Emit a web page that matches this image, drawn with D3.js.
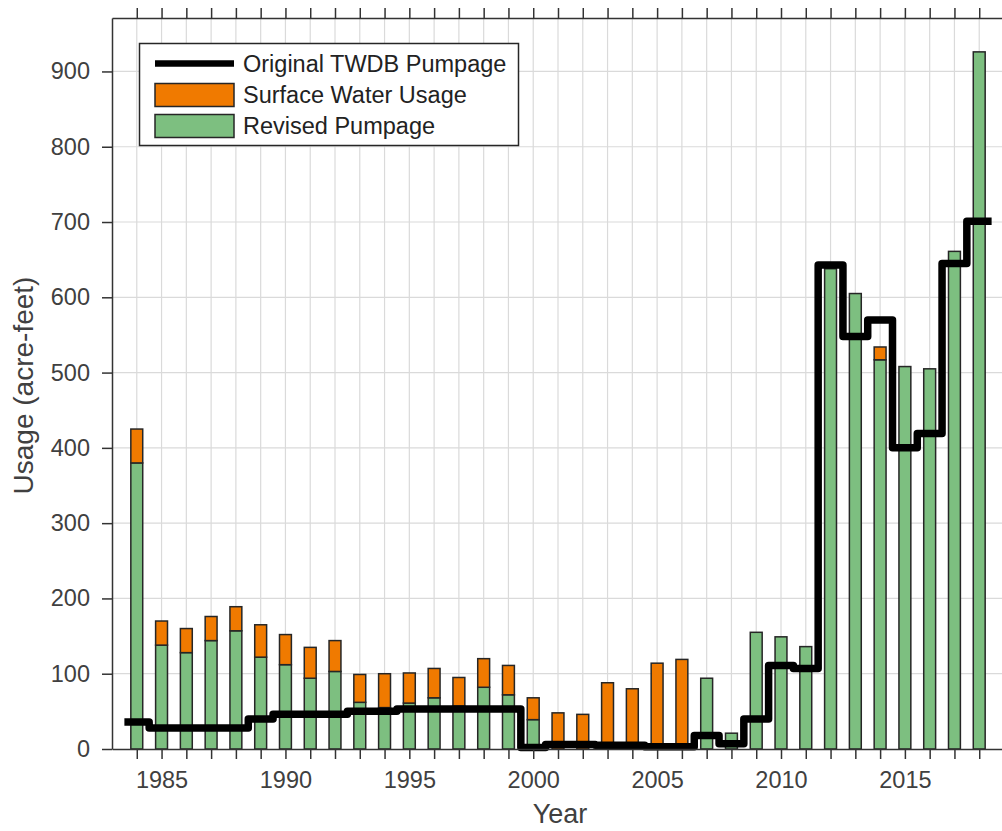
<!DOCTYPE html>
<html>
<head>
<meta charset="utf-8">
<script src="https://cdn.jsdelivr.net/npm/d3@7"></script>
<style>
  html, body { margin: 0; padding: 0; background: #fff; overflow: hidden; }
  svg { display: block; }
  text { font-family: "Liberation Sans", Arial, Helvetica, sans-serif; }
</style>
</head>
<body>
<svg id="chart" width="1002" height="831"></svg>
<script>
// ---- data ----
const years = d3.range(1984, 2019);
const revisedPumpage = [380, 138, 128, 144, 157, 122, 112, 94, 103, 62, 55, 61, 68, 57, 82, 72, 39,
  0, 0, 0, 0, 0, 0, 94, 21, 155, 149, 136, 638, 605, 517, 508, 505, 661, 926];
const surfaceWater = [45, 32, 32, 32, 32, 43, 40, 41, 41, 37, 45, 40, 39, 38, 38, 39, 29,
  48, 46, 88, 80, 114, 119, 0, 0, 0, 0, 0, 0, 0, 17, 0, 0, 0, 0];
const originalTWDB = [36, 28, 28, 28, 28, 40, 46, 46, 46, 50, 50, 53, 53, 53, 53, 53, 2,
  6, 6, 5, 5, 3, 3, 18, 7, 40, 111, 107, 643, 548, 570, 400, 419, 645, 701];
const xTickLabels = [1985, 1990, 1995, 2000, 2005, 2010, 2015];
const yTickValues = [0, 100, 200, 300, 400, 500, 600, 700, 800, 900];
const legendLabels = ["Original TWDB Pumpage", "Surface Water Usage", "Revised Pumpage"];

// ---- layout ----
const L = 112, R = 1004, T = 18, B = 749;
const colGreen = "#7dbf80", colOrange = "#f07a00", colEdge = "#262626";
const textCol = "#404040", axisCol = "#333";

const svg = d3.select("#chart");
const x = d3.scaleLinear().domain([1983, 2019]).range([L, R]);
const y = d3.scaleLinear().domain([0, 971]).range([B, T]);

// grid
const grid = svg.append("g");
grid.selectAll("line.v").data(years).join("line")
  .attr("x1", d => x(d)).attr("x2", d => x(d)).attr("y1", T).attr("y2", B)
  .attr("stroke", "#dadada").attr("stroke-width", 1.2);
grid.selectAll("line.h").data(yTickValues.slice(1)).join("line")
  .attr("x1", L).attr("x2", R).attr("y1", d => y(d)).attr("y2", d => y(d))
  .attr("stroke", "#dadada").attr("stroke-width", 1.2);

// bars
const bw = 0.24;
const data = years.map((yr, i) => ({ yr, g: revisedPumpage[i], o: surfaceWater[i] }));
const bars = svg.append("g");
bars.selectAll("rect.g").data(data.filter(d => d.g > 0)).join("rect")
  .attr("x", d => x(d.yr - bw)).attr("width", d => x(d.yr + bw) - x(d.yr - bw))
  .attr("y", d => y(d.g)).attr("height", d => y(0) - y(d.g))
  .attr("fill", colGreen).attr("stroke", colEdge).attr("stroke-width", 1.5);
bars.selectAll("rect.o").data(data.filter(d => d.o > 0)).join("rect")
  .attr("x", d => x(d.yr - bw)).attr("width", d => x(d.yr + bw) - x(d.yr - bw))
  .attr("y", d => y(d.g + d.o)).attr("height", d => y(d.g) - y(d.g + d.o))
  .attr("fill", colOrange).attr("stroke", colEdge).attr("stroke-width", 1.5);

// stairs line
const stairPts = years.map((yr, i) => [yr - 0.5, originalTWDB[i]]);
stairPts.push([years[years.length - 1] + 0.5, originalTWDB[originalTWDB.length - 1]]);
const line = d3.line().x(d => x(d[0])).y(d => y(d[1])).curve(d3.curveStepAfter);
svg.append("path").datum(stairPts).attr("d", line)
  .attr("fill", "none").attr("stroke", "#000").attr("stroke-width", 7.5)
  .attr("stroke-linejoin", "round").attr("stroke-linecap", "butt");

// axes
const fs = 23.5;
const xAxis = d3.axisBottom(x).tickValues(years).tickSizeInner(10).tickSizeOuter(0)
  .tickFormat(d => xTickLabels.includes(d) ? String(d) : "").tickPadding(8);
const gx = svg.append("g").attr("transform", `translate(0,${B})`).call(xAxis);
const xTop = d3.axisTop(x).tickValues(years).tickSizeInner(10).tickSizeOuter(0).tickFormat("");
const gxt = svg.append("g").attr("transform", `translate(0,${T})`).call(xTop);
const yAxis = d3.axisLeft(y).tickValues(yTickValues).tickSizeInner(10).tickSizeOuter(0).tickPadding(12);
const gy = svg.append("g").attr("transform", `translate(${L},0)`).call(yAxis);
const yRight = d3.axisRight(y).tickValues(yTickValues).tickSizeInner(10).tickSizeOuter(0).tickFormat("");
const gyr = svg.append("g").attr("transform", `translate(${R},0)`).call(yRight);
[gx, gxt, gy, gyr].forEach(g => {
  g.selectAll("path.domain").attr("stroke", axisCol).attr("stroke-width", 1.5);
  g.selectAll(".tick line").attr("stroke", axisCol).attr("stroke-width", 1.5);
  g.selectAll(".tick text").attr("fill", textCol).style("font-size", fs + "px")
    .style("font-family", "'Liberation Sans', Arial, sans-serif");
});
gx.selectAll(".tick text").attr("dy", "0.9em");

// axis labels
svg.append("text").attr("x", (L + R) / 2 + 2).attr("y", 823).attr("text-anchor", "middle")
  .attr("fill", textCol).style("font-size", "27px").text("Year");
svg.append("text").attr("transform", `translate(33,${(T + B) / 2 + 2}) rotate(-90)`)
  .attr("text-anchor", "middle").attr("fill", textCol).style("font-size", "28px")
  .text("Usage (acre-feet)");

// legend
const lg = svg.append("g");
lg.append("rect").attr("x", 139.5).attr("y", 43.5).attr("width", 379).attr("height", 102)
  .attr("fill", "#fff").attr("stroke", colEdge).attr("stroke-width", 1.5);
const rowY = [63.5, 95, 126];
lg.append("line").attr("x1", 155).attr("x2", 234).attr("y1", rowY[0]).attr("y2", rowY[0])
  .attr("stroke", "#000").attr("stroke-width", 6.5);
lg.append("rect").attr("x", 155).attr("y", rowY[1] - 11.5).attr("width", 79).attr("height", 23)
  .attr("fill", colOrange).attr("stroke", colEdge).attr("stroke-width", 1.5);
lg.append("rect").attr("x", 155).attr("y", rowY[2] - 11.5).attr("width", 79).attr("height", 23)
  .attr("fill", colGreen).attr("stroke", colEdge).attr("stroke-width", 1.5);
lg.selectAll("text.l").data(legendLabels).join("text")
  .attr("x", 243).attr("y", (d, i) => rowY[i]).attr("dy", "0.35em")
  .attr("fill", "#222").style("font-size", fs + "px").text(d => d);
</script>
</body>
</html>
